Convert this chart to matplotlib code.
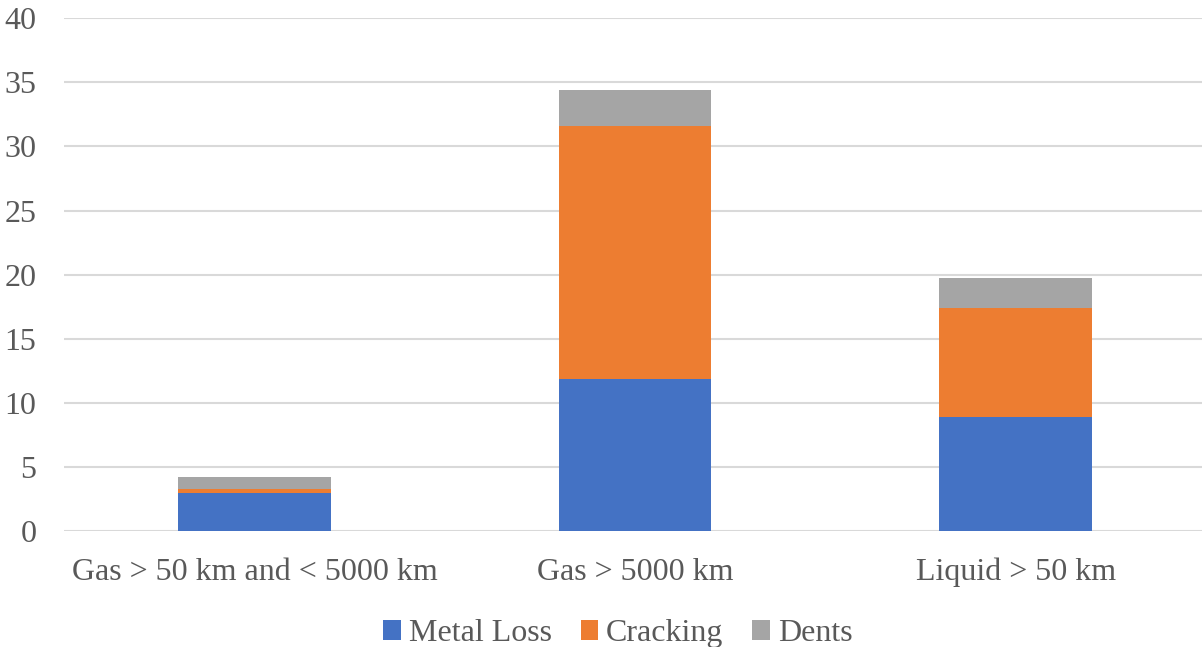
import numpy as np
import matplotlib.pyplot as plt

# Data
categories = ['Gas > 50 km and < 5000 km', 'Gas > 5000 km', 'Liquid > 50 km']
metal_loss = [2.95, 11.9, 8.9]
cracking = [0.3, 19.7, 8.5]
dents = [1.0, 2.8, 2.3]

plt.rcParams['font.family'] = ['Liberation Serif', 'DejaVu Serif']
text_col = '#595959'

fig = plt.figure(figsize=(12.02, 6.47), dpi=100)
ax = fig.add_axes([0.0535, 0.179, 0.9497, 0.793])

x = np.arange(len(categories))
w = 0.4
ml = np.array(metal_loss)
cr = np.array(cracking)
de = np.array(dents)

ax.bar(x, ml, w, color='#4472C4', label='Metal Loss', zorder=3)
ax.bar(x, cr, w, bottom=ml, color='#ED7D31', label='Cracking', zorder=3)
ax.bar(x, de, w, bottom=ml + cr, color='#A5A5A5', label='Dents', zorder=3)

ax.set_ylim(0, 40)
ax.set_xlim(-0.5, 2.5)
ax.set_yticks(range(0, 41, 5))
ax.set_xticks(x)
ax.set_xticklabels(categories)
ax.grid(axis='y', color='#D9D9D9', linewidth=1.5, zorder=0)
ax.tick_params(axis='both', length=0, labelsize=23, colors=text_col)
ax.tick_params(axis='x', pad=19)
ax.tick_params(axis='y', pad=20)
for s in ax.spines.values():
    s.set_visible(False)

ax.legend(loc='center', bbox_to_anchor=(0.485, -0.2), ncol=3, frameon=False,
          fontsize=23, labelcolor=text_col, handlelength=0.55, handleheight=0.55,
          handletextpad=0.25, columnspacing=0.9, borderpad=0.1)

fig.savefig('out.png', dpi=100)
